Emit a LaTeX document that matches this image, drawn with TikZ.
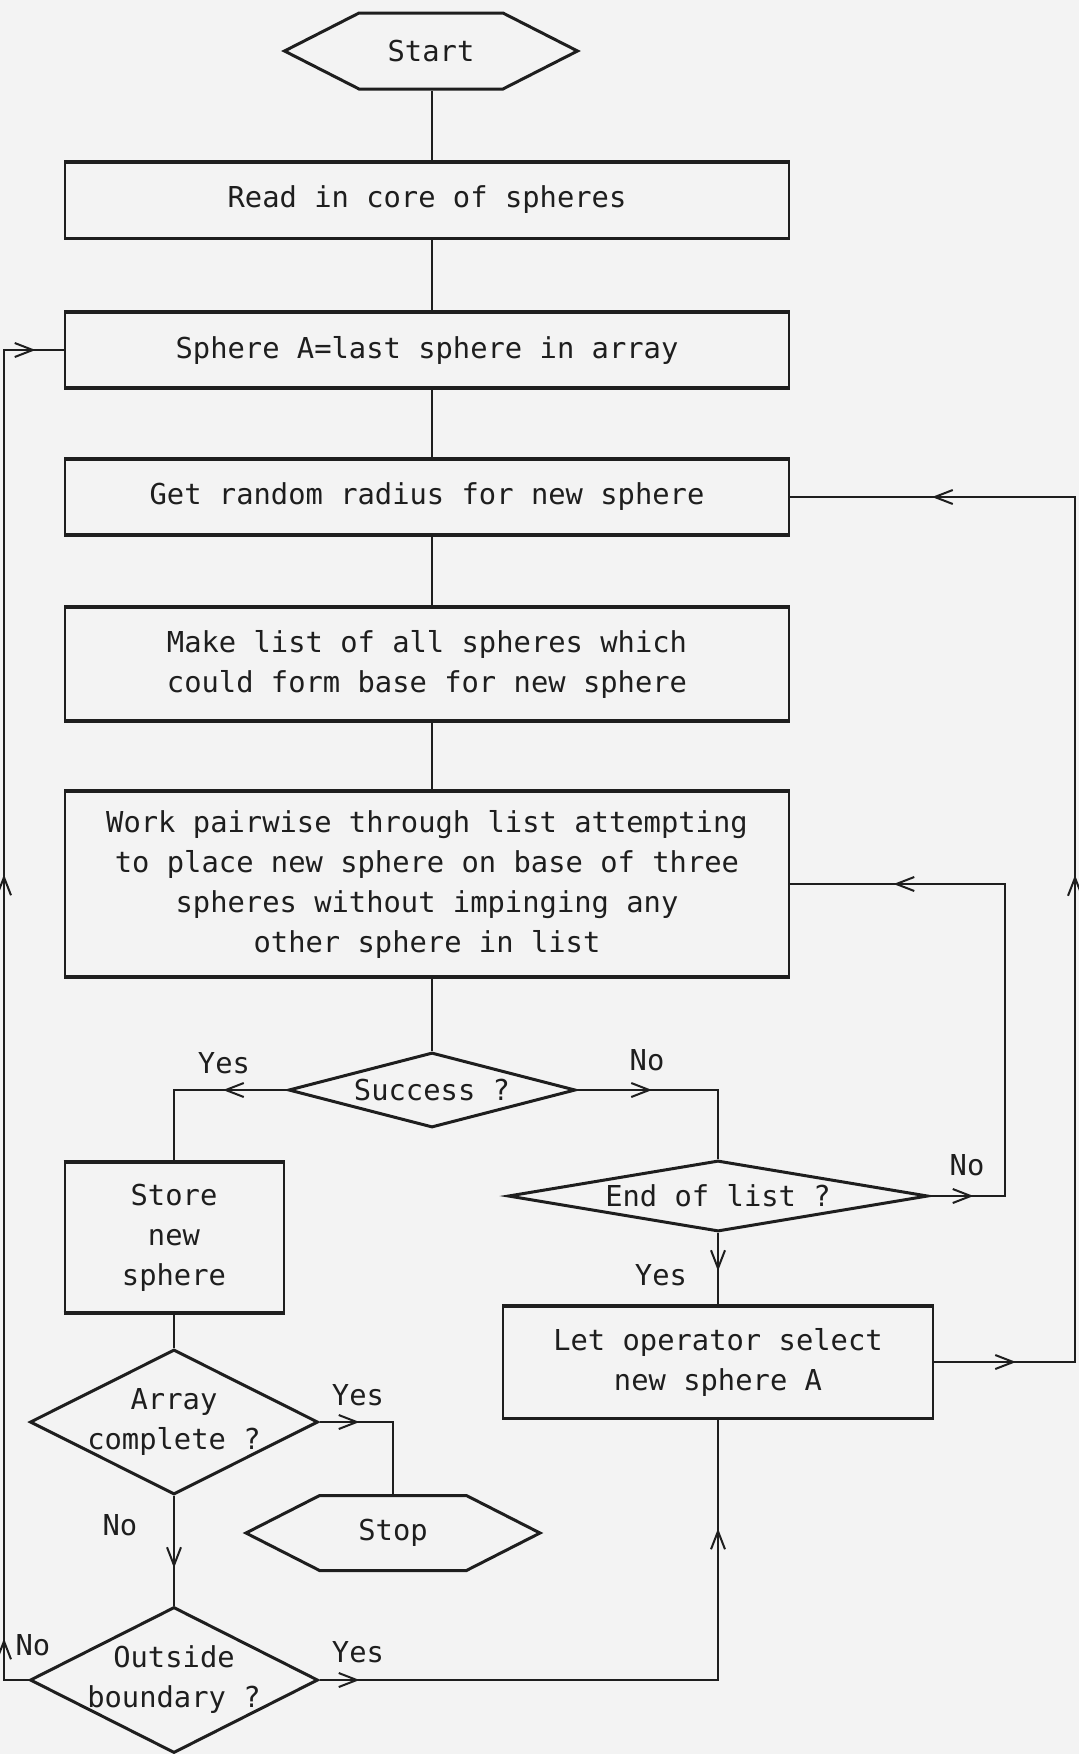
\documentclass[tikz,border=0pt]{standalone}
\usepackage{fontspec}
\newfontfamily\plotfont{DejaVu Sans Mono}
\usetikzlibrary{shapes.geometric,shapes.symbols,arrows.meta,decorations.markings}
\definecolor{ink}{HTML}{1E1E1E}
\definecolor{paper}{HTML}{F3F3F3}
\newcommand\myarr{\arrow{Straight Barb[length=18pt,width=14pt,line width=2pt]}}
\begin{document}
\begin{tikzpicture}[x=1pt,y=-1pt,
  every node/.style={text=ink,font=\plotfont\fontsize{28.8}{40}\selectfont},
  box/.style={draw=ink,line width=2pt,rectangle,align=center,inner sep=0pt},
  term/.style={draw=ink,line width=3pt,signal,signal to=east and west,signal pointer angle=54,inner sep=0pt},
  dec/.style={draw=ink,line width=3pt,diamond,inner sep=0pt},
  conn/.style={draw=ink,line width=2.2pt},
  lbl/.style={inner sep=0pt},
  arrs/.style={postaction={decorate},decoration={markings,#1}},
]
\fill[paper] (0,0) rectangle (1079,1754);
\useasboundingbox (0,0) rectangle (1079,1754);

% nodes
\node[term,minimum width=293pt,minimum height=76pt] (start) at (431,51) {Start};
\node[box,minimum width=724pt,minimum height=75pt] (read) at (427,200) {Read in core of spheres};
\node[box,minimum width=724pt,minimum height=74pt] (spha) at (427,350) {Sphere A=last sphere in array};
\node[box,minimum width=724pt,minimum height=74pt] (get) at (427,497) {Get random radius for new sphere};
\node[box,minimum width=724pt,minimum height=112pt] (make) at (427,664) {Make list of all spheres which\\could form base for new sphere};
\node[box,minimum width=724pt,minimum height=184pt] (work) at (427,884) {Work pairwise through list attempting\\to place new sphere on base of three\\spheres without impinging any\\other sphere in list};
\node[dec,minimum width=287pt,minimum height=75pt,label={[lbl]center:Success ?}] (succ) at (432,1090) {};
\node[dec,minimum width=420pt,minimum height=71pt,label={[lbl]center:End of list ?}] (endl) at (718,1196) {};
\node[box,minimum width=219pt,minimum height=149pt] (store) at (174,1237.5) {Store\\new\\sphere};
\node[box,minimum width=430pt,minimum height=111pt] (let) at (718,1362) {Let operator select\\new sphere A};
\node[dec,minimum width=288pt,minimum height=145pt,label={[lbl,align=center]center:Array\\complete ?}] (array) at (174,1422) {};
\node[term,minimum width=294pt,minimum height=75pt] (stop) at (393,1533) {Stop};
\node[dec,minimum width=288pt,minimum height=146pt,label={[lbl,align=center]center:Outside\\boundary ?}] (out) at (174,1680) {};

% thick top and bottom edges of the boxes
\foreach \n in {read,spha,get,make,work,store,let}
  \draw[ink,line width=3.2pt] (\n.north west) -- (\n.north east) (\n.south west) -- (\n.south east);

% helper coordinates
\coordinate (cx) at (432,0);
\coordinate (rx1) at (1005,0);
\coordinate (rx2) at (1075,0);
\coordinate (lx) at (4,0);

% connectors
\draw[conn] (start.south -| cx) -- (read.north -| cx);
\draw[conn] (read.south -| cx) -- (spha.north -| cx);
\draw[conn] (spha.south -| cx) -- (get.north -| cx);
\draw[conn] (get.south -| cx) -- (make.north -| cx);
\draw[conn] (make.south -| cx) -- (work.north -| cx);
\draw[conn] (work.south -| cx) -- (succ.north);
\draw[conn,arrs={mark=at position 64pt with {\myarr}}] (succ.west) -- (succ.west -| store.north) -- (store.north);
\draw[conn,arrs={mark=at position 75pt with {\myarr}}] (succ.east) -- (succ.east -| endl.north) -- (endl.north);
\draw[conn,arrs={mark=at position 44pt with {\myarr},mark=at position 499pt with {\myarr}}] (endl.east) -- (endl.east -| rx1) -- (rx1 |- work.east) -- (work.east);
\draw[conn,arrs={mark=at position 38pt with {\myarr}}] (endl.south) -- (let.north -| endl.south);
\draw[conn,arrs={mark=at position 82pt with {\myarr},mark=at position 628pt with {\myarr},mark=at position 1149pt with {\myarr}}] (let.east) -- (let.east -| rx2) -- (rx2 |- get.east) -- (get.east);
\draw[conn] (store.south) -- (array.north);
\draw[conn,arrs={mark=at position 40pt with {\myarr}}] (array.east) -- (array.east -| stop.north) -- (stop.north);
\draw[conn,arrs={mark=at position 72pt with {\myarr}}] (array.south) -- (out.north);
\draw[conn,arrs={mark=at position 66pt with {\myarr},mark=at position 830pt with {\myarr},mark=at position 1386pt with {\myarr}}] (out.west) -- (out.west -| lx) -- (lx |- spha.west) -- (spha.west);
\draw[conn,arrs={mark=at position 40pt with {\myarr},mark=at position 550pt with {\myarr}}] (out.east) -- (out.east -| let.south) -- (let.south);

% branch labels
\node[lbl] (y1) at (224,1063) {Yes};
\node[lbl] (n1) at (647,1060) {No};
\node[lbl] (n2) at (967,1165) {No};
\node[lbl] (y2) at (661,1275) {Yes};
\node[lbl] (y3) at (358,1395) {Yes};
\node[lbl] (n3) at (120,1525) {No};
\node[lbl] (n4) at (33,1645) {No};
\node[lbl] (y4) at (358,1652) {Yes};
\end{tikzpicture}
\end{document}
